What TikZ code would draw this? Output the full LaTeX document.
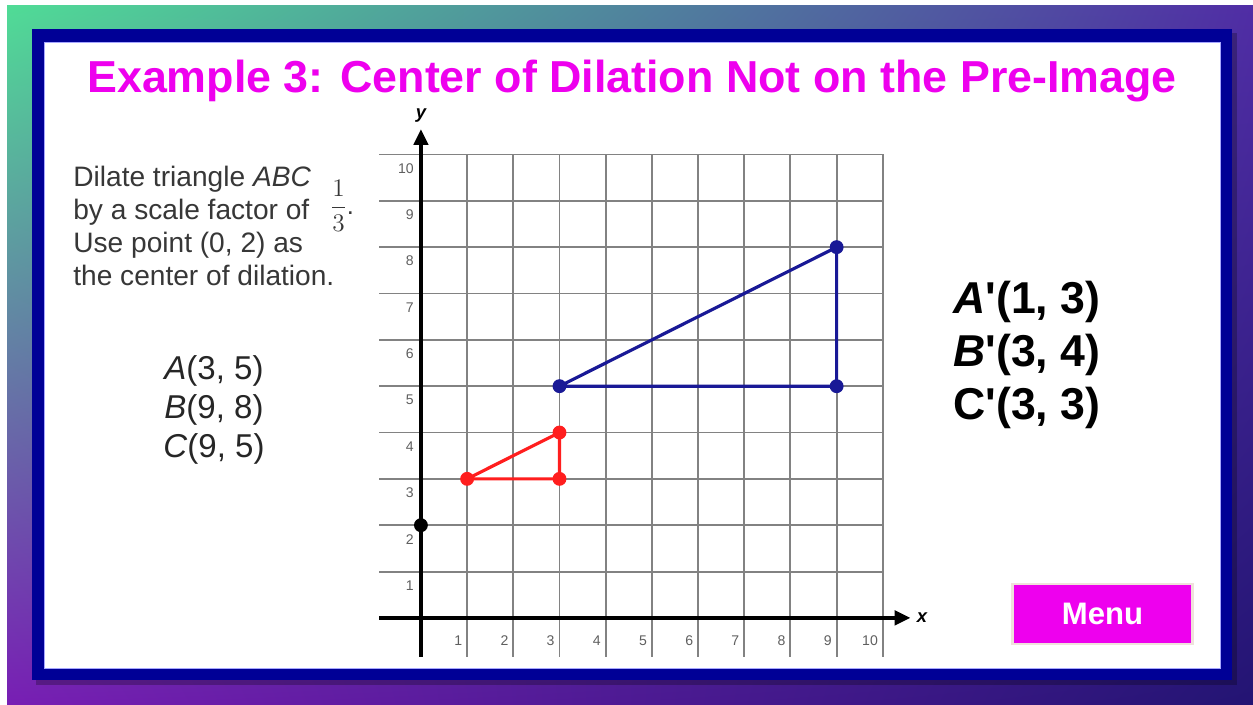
\documentclass[tikz,border=0pt]{standalone}
\usepackage[no-math]{fontspec}
\setmainfont{Liberation Sans}
\usepackage{amsmath}
\usetikzlibrary{arrows.meta,shadings}
\definecolor{slidepink}{RGB}{238,0,238}
\definecolor{framenavy}{RGB}{0,0,150}
\definecolor{imgblue}{RGB}{25,25,150}
\definecolor{imgred}{RGB}{255,30,30}
\definecolor{gridgray}{RGB}{130,130,130}
\definecolor{ticktext}{RGB}{95,95,95}
\definecolor{bodytext}{RGB}{55,55,55}
\definecolor{bggreen}{RGB}{80,220,150}
\definecolor{bgpurple}{RGB}{120,30,180}
\definecolor{bgviolet}{RGB}{80,45,165}
\definecolor{bgnavy}{RGB}{35,20,115}

\begin{document}
\begin{tikzpicture}[x=0.02cm, y=-0.02cm,
  title/.style={font=\fontsize{25.5}{30}\selectfont\bfseries, text=slidepink, inner sep=0pt},
  prose/.style={font=\fontsize{16}{18.8}\selectfont, text=bodytext, align=left, inner sep=0pt},
  given/.style={font=\fontsize{18.8}{22.2}\selectfont, text=black!85, align=center, inner sep=0pt},
  answer/.style={font=\fontsize{25.4}{30.2}\selectfont\bfseries, align=left, inner sep=0pt},
  menubtn/.style={fill=slidepink, draw={rgb,255:red,240;green,225;blue,220}, line width=1.5pt,
                  minimum width=3.6cm, minimum height=1.2cm, text=white,
                  font=\fontsize{17.7}{20}\selectfont\bfseries},
  gridline/.style={draw=gridgray, line width=1.1pt},
  axis/.style={line width=2.3pt, -{Triangle[length=9pt, width=8pt]}},
  tick/.style={font=\fontsize{8}{9}\selectfont, text=ticktext, inner sep=0pt},
  axlabel/.style={font=\fontsize{10.5}{11}\selectfont\bfseries\itshape, inner sep=0pt},
  tri/.style={line width=1.8pt}
]
\useasboundingbox (0,0) rectangle (1253,704);

%% --- Slide background and frame ---
\fill[white] (0,0) rectangle (1253,704);
\shade[upper left=bggreen, upper right=bgviolet, lower left=bgpurple, lower right=bgnavy]
  (7,5) rectangle (1253,704);
\fill[black, opacity=0.25] (36,33) rectangle (1237,685);
\fill[framenavy] (32,29) rectangle (1232,680);
\fill[white] (44,42) rectangle (1220,668);
\draw[blue!35, line width=0.5pt] (44,42) rectangle (1220,668);

%% --- Title ---
\node[title, anchor=base] (heading) at (632,92)
  {Example 3: Center of Dilation Not on the Pre-Image};

%% --- Task text ---
\node[prose, anchor=north west] (task) at (73,166)
  {Dilate triangle \textit{ABC}\\by a scale factor of\\Use point (0, 2) as\\the center of dilation.};
\node[inner sep=0pt, text=bodytext, font=\fontsize{14.5}{16}\selectfont] (factor) at (342,206)
  {$\dfrac{1}{3}$.};

%% --- Pre-image and image vertices ---
\node[given] (preimg) at (214,410) {\textit{A}(3, 5)\\\textit{B}(9, 8)\\\textit{C}(9, 5)};
\node[answer, anchor=west] (imgpts) at (953,355)
  {\textit{A}\textquotesingle(1, 3)\\\textit{B}\textquotesingle(3, 4)\\C\textquotesingle(3, 3)};

%% --- Coordinate plane ---
\begin{scope}[xshift=8.42cm, yshift=-12.36cm, x=0.924cm, y=0.927cm]
  \foreach \k in {1,...,10} {
    \draw[gridline] (\k,-0.84) -- (\k,10);
    \draw[gridline] (-0.9,\k) -- (10,\k);
    \node[tick, anchor=east] (ty\k) at (-0.15,\k-0.3) {\k};
    \node[tick, anchor=east] (tx\k) at (\k-0.1,-0.5) {\k};
  }
  \draw[axis] (0,-0.84) -- (0,10.55);
  \draw[axis] (-0.9,0) -- (10.6,0);
  \node[axlabel] (ylab) at (0,10.85) {y};
  \node[axlabel] (xlab) at (10.85,0) {x};

  %% pre-image ABC
  \coordinate (A) at (3,5);
  \coordinate (B) at (9,8);
  \coordinate (C) at (9,5);
  \draw[tri, imgblue] (A) -- (B) -- (C) -- cycle;
  \foreach \p in {A,B,C} \fill[imgblue] (\p) circle (0.15);

  %% image A'B'C'
  \coordinate (A1) at (1,3);
  \coordinate (B1) at (3,4);
  \coordinate (C1) at (3,3);
  \draw[tri, imgred] (A1) -- (B1) -- (C1) -- cycle;
  \foreach \p in {A1,B1,C1} \fill[imgred] (\p) circle (0.15);

  %% center of dilation
  \coordinate (ctr) at (0,2);
  \fill (ctr) circle (0.15);
\end{scope}

%% --- Menu button ---
\node[menubtn] (menu) at (1102.5,614) {Menu};
\end{tikzpicture}
\end{document}
